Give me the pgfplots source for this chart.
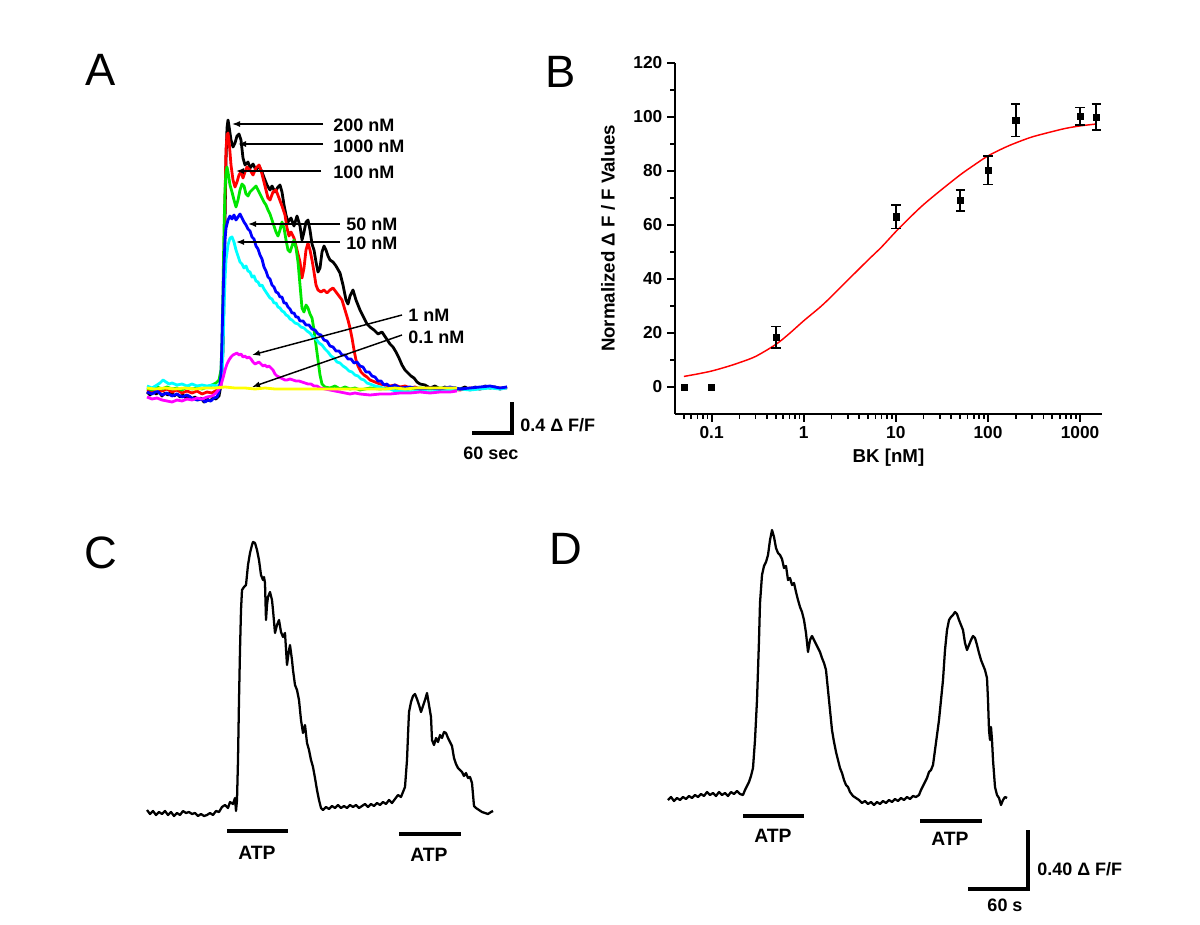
\documentclass[border=0pt]{standalone}
\usepackage{pgfplots}
\pgfplotsset{compat=1.18}
\usepackage{pgfplotstable}
\usetikzlibrary{arrows.meta}
\usepackage{fontspec}
\setmainfont{Liberation Sans}
\newcommand\lab{\fontsize{13.5}{15}\selectfont\bfseries}
\newcommand\atp{\fontsize{14.5}{16}\selectfont\bfseries}
\newcommand\panel{\fontsize{34}{36}\selectfont}
\definecolor{tgreen}{RGB}{0,230,0}
\definecolor{tcyan}{RGB}{0,255,255}
\definecolor{tmag}{RGB}{255,0,255}
\definecolor{tyel}{RGB}{255,255,0}
\definecolor{tblue}{RGB}{0,0,255}
\definecolor{tred}{RGB}{255,0,0}

% ---------- Panel A traces (x: image px, y: image px, downward) ----------
\pgfplotstableread{
x y
147 392
150 395
153 391
156 394
159 392
162 396
165 393
168 395
171 392
174 396
177 394
180 397
183 395
186 398
189 396
192 399
195 397
198 400
201 398
204 402
207 399
210 401
213 398
216 399
219 396
221 385
223 350
224 290
225 220
226 160
227 128
228 120
229 126
231 140
233 147
235 143
237 136
239 134
241 140
243 158
245 165
248 162
250 168
253 164
256 170
259 166
262 172
265 180
267 185
270 190
272 186
275 192
278 187
280 185
282 192
284 205
286 215
288 222
291 218
294 226
297 216
300 226
302 240
304 232
306 222
308 220
310 230
312 244
314 250
316 262
318 272
320 268
322 252
324 246
326 250
328 256
330 260
333 262
336 266
340 273
343 285
346 300
348 304
350 296
353 290
356 300
360 310
364 318
367 324
370 327
374 330
378 334
382 332
386 338
390 344
393 347
396 352
399 358
402 365
405 370
408 373
411 376
414 378
417 382
420 384
425 385
430 388
435 386
440 389
445 387
450 390
455 388
460 389
465 387
470 390
475 387
480 389
485 386
490 388
495 387
500 389
507 387
}\blacktr

\pgfplotstableread{
x y
147 390
152 392
157 389
162 391
167 389
172 392
177 390
182 393
187 391
192 393
197 391
202 394
207 392
212 393
217 390
220 386
222 370
223 330
224 270
225 200
226 150
227 135
228 133
229 140
231 165
233 180
235 187
237 182
239 175
241 172
243 178
245 172
247 167
250 170
253 175
256 168
259 165
261 170
263 178
265 186
268 198
270 200
273 192
276 190
279 198
282 206
285 215
287 228
289 236
291 232
294 238
297 250
300 262
302 278
304 268
306 250
308 243
310 250
312 260
314 272
316 285
318 290
321 292
324 290
327 293
330 290
333 288
336 292
339 296
342 300
345 310
348 320
350 328
352 338
354 350
356 360
358 366
361 372
364 375
367 377
370 380
375 382
380 384
385 385
390 386
395 385
400 387
405 386
410 388
415 387
420 389
430 388
440 390
450 389
460 390
470 388
480 389
490 387
500 388
507 388
}\redtr

\pgfplotstableread{
x y
147 388
152 390
157 387
162 389
167 387
172 389
177 388
182 390
187 387
192 389
197 388
202 389
207 387
212 385
216 383
219 380
221 370
222 340
223 290
224 230
225 190
226 172
227 167
228 172
230 185
232 192
234 200
236 207
238 200
240 190
242 184
244 186
246 194
248 196
250 192
252 190
254 188
256 186
258 190
260 194
262 198
264 202
266 205
268 210
270 214
272 220
274 226
276 232
278 236
280 230
282 222
284 228
286 240
288 250
290 252
292 246
294 240
296 248
298 262
300 285
302 308
304 312
306 305
308 308
310 314
312 318
314 330
316 345
318 360
320 375
322 384
325 387
330 388
335 386
340 389
345 387
350 389
355 388
360 390
370 388
380 389
390 388
400 390
410 389
420 388
430 389
440 388
450 389
456 388
}\greentr

\pgfplotstableread{
x y
147 386
152 388
157 385
160 383
163 380
166 382
169 384
172 383
177 385
182 384
187 386
192 384
197 386
202 385
207 386
212 385
217 386
220 385
222 378
223 350
224 310
225 280
226 260
228 245
230 238
232 237
234 242
236 250
238 256
240 262
242 264
244 268
246 266
248 271
250 272
252 277
254 276
256 281
258 282
260 286
262 285
264 289
266 292
268 295
270 298
272 299
274 303
276 303
278 307
280 308
282 311
284 312
286 315
288 316
290 319
292 320
295 323
298 324
301 327
304 328
307 331
310 333
313 337
316 339
319 343
322 345
325 349
328 352
331 356
334 358
337 362
340 363
343 366
346 368
349 371
352 372
355 375
358 376
361 379
364 380
367 383
370 384
375 386
380 387
385 389
390 389
395 391
400 391
410 392
420 391
430 392
440 391
450 390
460 389
470 390
480 389
490 388
500 389
507 388
}\cyantr

\pgfplotstableread{
x y
147 392
152 394
157 391
162 395
167 393
172 396
177 394
182 397
187 395
192 398
197 400
202 399
205 402
208 400
211 401
214 398
217 397
219 392
221 375
222 340
223 300
224 265
225 240
226 228
228 220
230 216
232 219
234 215
236 220
238 217
240 214
242 218
244 222
246 225
248 229
250 231
252 237
254 239
256 246
258 249
260 255
262 259
264 267
266 271
268 277
270 279
272 285
274 287
276 292
278 293
280 297
282 297
284 303
286 303
288 307
290 309
292 313
294 313
296 317
298 317
300 321
303 321
306 325
309 325
312 329
315 330
318 334
321 335
324 340
327 341
330 346
333 347
336 351
339 351
342 355
345 355
348 359
351 359
354 363
357 362
360 366
363 367
366 372
369 372
372 376
375 377
378 381
381 381
384 385
387 384
390 387
395 385
400 388
410 387
420 389
430 388
440 389
450 387
460 389
470 388
480 387
490 386
500 388
507 387
}\bluetr

\pgfplotstableread{
x y
147 397
152 399
157 398
162 400
167 401
172 402
177 400
182 401
187 399
192 400
197 398
202 399
207 397
212 396
216 393
219 389
221 385
223 378
225 370
227 364
229 360
231 357
233 355
235 354
237 353
239 355
241 354
243 357
245 356
247 358
249 357
251 359
253 362
255 364
257 363
259 362
261 364
263 366
265 365
267 367
269 366
271 368
273 370
275 374
277 376
279 377
281 378
283 379
285 380
287 380
290 379
293 380
296 381
299 381
302 382
305 383
308 384
311 384
314 386
317 386
320 388
325 389
330 390
335 391
340 392
345 393
350 394
355 393
360 394
370 395
380 394
390 394
400 393
410 393
420 392
430 393
440 392
450 392
457 391
}\magtr

\pgfplotstableread{
x y
147 388
155 389
165 388
175 389
185 388
195 389
205 388
215 388
225 387
235 388
245 388
255 389
265 388
275 389
285 389
295 389
305 389
315 389
325 389
335 389
345 389
355 389
365 389
375 389
385 389
395 388
405 389
415 388
425 388
435 388
445 388
457 388
}\yeltr

% ---------- Panel C trace ----------
\pgfplotstableread{
x y
147 810
150 814
153 811
156 815
159 812
162 814
165 811
168 815
171 812
174 816
177 813
180 815
183 811
186 813
189 812
192 814
195 813
198 816
201 814
204 816
207 815
210 813
213 815
216 811
219 812
222 807
225 805
228 808
230 802
233 804
235 798
236 811
237 800
238 760
239 700
240 650
241 610
242 590
244 587
246 585
247 575
248 565
250 553
252 545
253 542
255 543
257 550
259 560
261 575
263 580
264 577
265 583
266 620
267 605
268 597
270 592
272 600
273 610
275 633
277 625
279 620
281 632
283 637
285 633
287 665
289 650
290 645
292 660
293 670
295 685
297 690
299 700
301 720
303 733
305 725
307 743
309 750
311 760
313 767
315 778
317 790
319 800
321 808
323 810
326 807
329 809
332 806
335 808
338 805
341 808
344 806
347 808
350 805
353 807
356 805
359 808
362 806
365 804
368 807
371 804
374 806
377 803
380 805
383 802
386 804
389 800
392 803
395 799
398 795
401 797
403 792
405 787
407 760
408 735
409 712
411 702
413 696
415 694
417 699
419 705
421 712
423 706
425 700
427 693
429 705
431 717
432 740
434 745
436 738
438 742
440 735
442 738
444 732
446 733
448 738
450 742
452 746
454 758
456 764
458 768
460 770
462 772
464 776
466 773
468 778
470 777
472 783
474 806
476 808
479 810
482 812
485 813
488 814
491 812
493 811
}\ctr

% ---------- Panel D trace ----------
\pgfplotstableread{
x y
668 800
671 797
674 801
677 798
680 800
683 797
686 799
689 796
692 798
695 795
698 797
701 794
704 796
707 792
710 795
713 793
716 796
719 792
722 795
725 793
728 796
731 792
734 794
737 791
740 794
743 795
745 790
747 786
749 782
751 776
753 768
755 740
757 700
759 640
760 603
762 575
764 566
766 562
768 555
770 540
772 530
774 537
776 548
778 553
780 555
782 559
784 568
786 566
788 580
790 578
792 585
794 583
796 592
798 600
800 607
802 612
804 620
806 633
808 652
810 640
812 636
814 640
816 644
818 648
820 652
822 658
824 663
826 670
828 690
830 710
832 730
834 742
836 752
838 760
840 768
842 773
844 780
846 785
848 787
850 792
853 796
856 798
859 800
862 803
865 801
868 804
871 802
874 805
877 802
880 804
883 801
886 803
889 800
892 802
895 799
898 801
901 798
904 800
907 797
910 799
913 796
916 797
919 795
921 790
923 786
925 782
927 778
929 772
931 770
933 765
935 750
937 735
939 720
941 700
943 680
945 650
947 630
949 620
951 617
953 615
955 612
957 614
959 620
961 625
963 630
965 643
967 650
969 645
971 640
973 636
975 638
977 645
979 653
981 660
983 665
985 670
987 678
988 700
989 730
990 740
991 727
992 740
993 760
995 787
997 795
999 798
1001 805
1003 800
1005 797
1007 798
}\dtr

% ---------- Panel B data ----------
\pgfplotstableread{
x y e
0.5 18.4 4.0
10 63.0 4.4
50 69.0 3.8
100 80.2 5.3
200 98.7 6.0
1000 100.2 3.2
1500 99.9 4.8
}\bkerr

\pgfplotstableread{
x y
0.05 0
0.1 0
}\bkzero

\pgfplotstableread{
x y
0.05 3.9
0.07 4.8
0.1 5.9
0.15 7.6
0.2 9.0
0.3 11.3
0.5 15.8
0.7 19.8
1 24.5
1.5 29.5
2 33.5
3 39.5
5 47.0
7 51.8
10 57.5
15 63.5
20 67.5
30 72.5
50 78.5
70 82.0
100 85.5
150 88.5
200 90.3
300 92.5
500 94.5
700 95.7
1000 96.6
1500 97.3
}\bkfit

\begin{document}
\begin{tikzpicture}
\useasboundingbox (0,0) rectangle (900pt,693.75pt);

% Canvas axis for panels A, C, D
\begin{axis}[
  at={(0pt,0pt)}, anchor=south west,
  width=900pt, height=693.75pt, scale only axis,
  xmin=0, xmax=1200, ymin=0, ymax=925, y dir=reverse,
  hide axis, clip=false,
]
\addplot[black, line width=2.1pt, line join=round] table[x=x,y=y] {\blacktr};
\addplot[tred, line width=2.1pt, line join=round] table[x=x,y=y] {\redtr};
\addplot[tgreen, line width=2.1pt, line join=round] table[x=x,y=y] {\greentr};
\addplot[tcyan, line width=2.1pt, line join=round] table[x=x,y=y] {\cyantr};
\addplot[tblue, line width=2.1pt, line join=round] table[x=x,y=y] {\bluetr};
\addplot[tmag, line width=2.1pt, line join=round] table[x=x,y=y] {\magtr};
\addplot[tyel, line width=2.1pt, line join=round] table[x=x,y=y] {\yeltr};

% arrows and labels panel A
\draw[line width=1.1pt, -{Latex[length=6pt,width=4.5pt]}] (axis cs:323,124) -- (axis cs:232,124);
\draw[line width=1.1pt, -{Latex[length=6pt,width=4.5pt]}] (axis cs:323,144) -- (axis cs:238,144);
\draw[line width=1.1pt, -{Latex[length=6pt,width=4.5pt]}] (axis cs:321,171) -- (axis cs:236,171);
\draw[line width=1.1pt, -{Latex[length=6pt,width=4.5pt]}] (axis cs:340,224) -- (axis cs:248,224);
\draw[line width=1.1pt, -{Latex[length=6pt,width=4.5pt]}] (axis cs:340,242) -- (axis cs:236,242);
\draw[line width=1.1pt, -{Latex[length=6pt,width=4.5pt]}] (axis cs:402,315) -- (axis cs:252,355);
\draw[line width=1.1pt, -{Latex[length=6pt,width=4.5pt]}] (axis cs:402,335) -- (axis cs:252,387);
\node[anchor=west, font=\lab, inner sep=0pt] at (axis cs:333,125) {200 nM};
\node[anchor=west, font=\lab, inner sep=0pt] at (axis cs:333,146) {1000 nM};
\node[anchor=west, font=\lab, inner sep=0pt] at (axis cs:333,172) {100 nM};
\node[anchor=west, font=\lab, inner sep=0pt] at (axis cs:346,224) {50 nM};
\node[anchor=west, font=\lab, inner sep=0pt] at (axis cs:346,243) {10 nM};
\node[anchor=west, font=\lab, inner sep=0pt] at (axis cs:408,315) {1 nM};
\node[anchor=west, font=\lab, inner sep=0pt] at (axis cs:408,337) {0.1 nM};

% scale bar A
\draw[line width=2.6pt, line cap=rect] (axis cs:474,433) -- (axis cs:512,433) -- (axis cs:512,404);
\node[anchor=west, font=\lab, inner sep=0pt] at (axis cs:520,425) {0.4 Δ F/F};
\node[anchor=west, font=\lab, inner sep=0pt] at (axis cs:463,453) {60 sec};

% Panel C
\addplot[black, line width=1.7pt, line join=round] table[x=x,y=y] {\ctr};
\draw[line width=3pt] (axis cs:227,831) -- (axis cs:288,831);
\draw[line width=3pt] (axis cs:399,834) -- (axis cs:461,834);
\node[font=\atp, inner sep=0pt] at (axis cs:257,853) {ATP};
\node[font=\atp, inner sep=0pt] at (axis cs:429,855) {ATP};

% Panel D
\addplot[black, line width=1.7pt, line join=round] table[x=x,y=y] {\dtr};
\draw[line width=3pt] (axis cs:743,816) -- (axis cs:804,816);
\draw[line width=3pt] (axis cs:920,821) -- (axis cs:982,821);
\node[font=\atp, inner sep=0pt] at (axis cs:773,836) {ATP};
\node[font=\atp, inner sep=0pt] at (axis cs:950,839) {ATP};
\draw[line width=2.6pt, line cap=rect] (axis cs:970,889) -- (axis cs:1028,889) -- (axis cs:1028,832);
\node[anchor=west, font=\lab, inner sep=0pt] at (axis cs:1037,869) {0.40 Δ F/F};
\node[font=\lab, inner sep=0pt] at (axis cs:1005,905) {60 s};

% panel letters
\node[font=\panel, inner sep=0pt] at (axis cs:101,70) {A};
\node[font=\panel, inner sep=0pt] at (axis cs:561,72) {B};
\node[font=\panel, inner sep=0pt] at (axis cs:101,553) {C};
\node[font=\panel, inner sep=0pt] at (axis cs:566,549) {D};
\end{axis}

% Panel B
\begin{axis}[
  at={(506.25pt,383.25pt)}, anchor=south west,
  width=320.25pt, height=263.5pt, scale only axis,
  xmode=log, xmin=0.04, xmax=1730, ymin=-10, ymax=120,
  axis lines*=left,
  axis line style={line width=1.5pt},
  tick align=outside,
  major tick length=6pt, minor tick length=3.5pt,
  every tick/.style={black, line width=1.3pt},
  xtick={0.1,1,10,100,1000},
  xticklabels={0.1,1,10,100,1000},
  minor xtick={0.05,0.06,0.07,0.08,0.09,0.2,0.3,0.4,0.5,0.6,0.7,0.8,0.9,2,3,4,5,6,7,8,9,20,30,40,50,60,70,80,90,200,300,400,500,600,700,800,900},
  ytick={0,20,40,60,80,100,120},
  minor ytick={10,30,50,70,90,110},
  /pgf/number format/assume math mode=true,
  tick label style={font=\fontsize{13}{15}\selectfont\bfseries},
  xlabel={BK [nM]},
  ylabel={Normalized Δ F / F Values},
  label style={font=\fontsize{14}{16}\selectfont\bfseries},
  xlabel style={yshift=-1pt},
  ylabel style={yshift=7pt},
  clip=false,
]
\addplot[tred, line width=1.1pt, smooth] table[x=x,y=y] {\bkfit};
\addplot[black, only marks, mark=square*, mark size=2.3pt] table[x=x,y=y] {\bkzero};
\addplot[black, only marks, mark=square*, mark size=2.3pt,
  error bars/.cd, y dir=both, y explicit,
  error bar style={line width=1.3pt},
  error mark options={rotate=90, mark size=3.5pt, line width=1.3pt}]
  table[x=x,y=y,y error=e] {\bkerr};
\end{axis}
\end{tikzpicture}
\end{document}
